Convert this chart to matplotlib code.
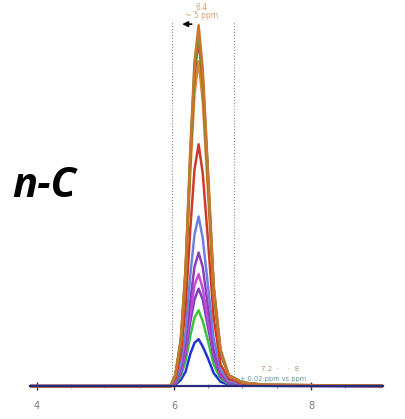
import matplotlib.pyplot as plt
from matplotlib.ticker import MultipleLocator

# chemical shift sample points (ppm)
ppm = [3.6, 5.95, 6.02, 6.10, 6.17, 6.24, 6.30, 6.36, 6.42, 6.49, 6.58, 6.68, 6.80, 7.0, 7.3, 9.3]

# peak intensities, one list per trace
orange  = [0, 0, 3, 13, 33, 66, 90, 100, 88, 62, 28, 10, 3, 1, 0.4, 0]
olive   = [0, 0, 3, 13, 32, 65, 88, 98, 86, 61, 27, 10, 3, 1, 0.4, 0]
brown   = [0, 0, 3, 12, 32, 63, 86, 96, 84, 60, 27, 9, 3, 1, 0.4, 0]
orange2 = [0, 0, 3, 12, 30, 60, 81, 90, 79, 56, 25, 9, 3, 1, 0.3, 0]
red     = [0, 0, 2, 9, 22, 44, 60, 67, 59, 42, 19, 6, 2, 0.7, 0.3, 0]
lblue   = [0, 0, 1.5, 6, 15, 31, 42, 47, 41, 29, 13, 4.5, 1.4, 0.5, 0.2, 0]
purple  = [0, 0, 1.2, 5, 12, 24, 33, 37, 33, 23, 10, 3.5, 1.1, 0.4, 0.2, 0]
magenta = [0, 0, 1, 4, 10, 20, 28, 31, 27, 19, 9, 3, 1, 0.3, 0.1, 0]
violet  = [0, 0, 0.9, 3.5, 9, 18, 24, 27, 24, 17, 8, 2.6, 0.8, 0.3, 0.1, 0]
green   = [0, 0, 0.7, 2.7, 7, 14, 19, 21, 18, 13, 6, 2, 0.6, 0.2, 0.1, 0]
blue    = [0, 0, 0.4, 1.7, 4, 9, 12, 13, 11, 8, 3.6, 1.2, 0.4, 0.2, 0.1, 0]

traces = [
    (blue, '#1f35d8'),
    (green, '#3cc43c'),
    (violet, '#7a3fc4'),
    (magenta, '#c848d8'),
    (purple, '#8e3fb8'),
    (lblue, '#7080e0'),
    (red, '#d03a28'),
    (orange2, '#d8882e'),
    (brown, '#a8542a'),
    (olive, '#6a9a3a'),
    (orange, '#c9772e'),
]

fig = plt.figure(figsize=(4.05, 4.19), dpi=100)
ax = fig.add_axes([30/405, 4/419, 353/405, 397/419])
ax.set_xlim(3.9, 9.05)
ax.set_ylim(-8, 102)

for y, c in traces:
    ax.plot(ppm, y, color=c, lw=1.8, solid_joinstyle='round')

# integration window
for xv in (5.97, 6.88):
    ax.plot([xv, xv], [0, 101], color='#888888', lw=0.8, ls=':')

for s in ('top', 'right', 'left'):
    ax.spines[s].set_visible(False)
ax.spines['bottom'].set_position(('data', 0))
ax.spines['bottom'].set_color('#2a2a80')
ax.spines['bottom'].set_linewidth(1.6)
ax.set_yticks([])
ax.xaxis.set_major_locator(MultipleLocator(2))
ax.xaxis.set_minor_locator(MultipleLocator(0.5))
ax.tick_params(axis='x', which='major', direction='inout', length=6, width=1,
               colors='#333333', labelsize=7, labelcolor='#777777', pad=8)
ax.tick_params(axis='x', which='minor', direction='inout', length=3, width=0.8,
               colors='#888888')

ax.text(6.4, 101.5, '6.4\n~ 5 ppm', color='#d9a070', fontsize=5.5,
        ha='center', va='bottom', linespacing=0.9)
ax.annotate('', xy=(6.08, 100.3), xytext=(6.3, 100.3),
            arrowprops=dict(arrowstyle='-|>', color='black', lw=1.2,
                            mutation_scale=8))
ax.text(7.55, 4.0, '7.2  ·    ·  8', color='#b89070', fontsize=5,
        ha='center', va='bottom')
ax.text(7.45, 1.2, '± 0.02 ppm vs ppm', color='#5a9aa0', fontsize=4.8,
        ha='center', va='bottom')

fig.text(12/405, 1 - 186/419, 'n-C', fontsize=30, fontweight='bold',
         fontstyle='italic', family='Open Sans', va='center', ha='left')

fig.savefig('out.png', dpi=100)
